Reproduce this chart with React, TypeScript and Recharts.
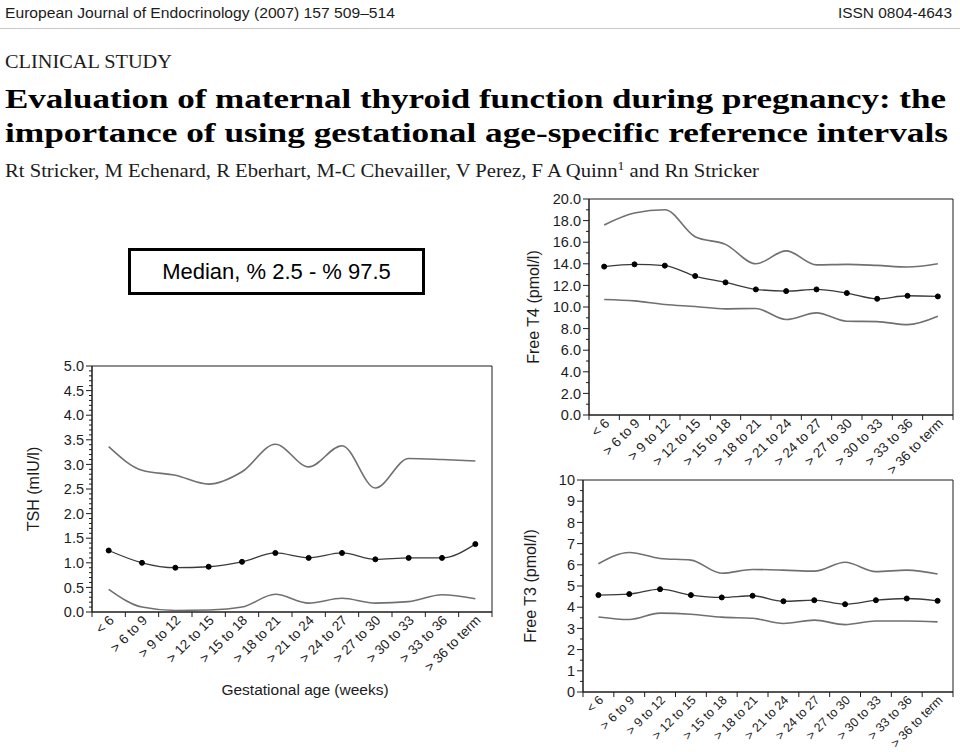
import React from "react";
import { LineChart, Line, XAxis, YAxis, ReferenceArea } from "recharts";

// gestational age groups (weeks)
const ageGroups = [
  "< 6", "> 6 to 9", "> 9 to 12", "> 12 to 15", "> 15 to 18", "> 18 to 21",
  "> 21 to 24", "> 24 to 27", "> 27 to 30", "> 30 to 33", "> 33 to 36", "> 36 to term",
];

// TSH (mIU/l)
const tshHigh = [3.36, 2.88, 2.78, 2.6, 2.85, 3.41, 2.95, 3.38, 2.52, 3.12, 3.1, 3.07];
const tshMedian = [1.25, 1.0, 0.9, 0.92, 1.02, 1.2, 1.1, 1.2, 1.07, 1.1, 1.1, 1.38];
const tshLow = [0.46, 0.1, 0.03, 0.04, 0.1, 0.36, 0.18, 0.28, 0.18, 0.21, 0.35, 0.27];

// Free T4 (pmol/l)
const ft4High = [17.6, 18.7, 19.0, 16.5, 15.8, 14.0, 15.2, 13.9, 13.95, 13.85, 13.7, 14.0];
const ft4Median = [13.74, 13.95, 13.83, 12.87, 12.28, 11.63, 11.47, 11.63, 11.29, 10.76, 11.04, 10.98];
const ft4Low = [10.7, 10.57, 10.23, 10.05, 9.83, 9.86, 8.84, 9.46, 8.68, 8.65, 8.37, 9.15];

// Free T3 (pmol/l)
const ft3High = [6.05, 6.58, 6.3, 6.22, 5.6, 5.78, 5.75, 5.7, 6.12, 5.68, 5.75, 5.57];
const ft3Median = [4.57, 4.62, 4.85, 4.57, 4.46, 4.54, 4.28, 4.33, 4.14, 4.33, 4.41, 4.3];
const ft3Low = [3.54, 3.42, 3.72, 3.67, 3.53, 3.48, 3.23, 3.39, 3.18, 3.35, 3.35, 3.31];

const FONT = "'Liberation Sans', Arial, sans-serif";
const SERIF = "'Liberation Serif', 'Times New Roman', serif";
const INK = "#1c1c1c";

function buildRows(high: number[], median: number[], low: number[]) {
  return ageGroups.map((g, i) => ({ x: i + 0.5, group: g, high: high[i], median: median[i], low: low[i] }));
}

function YTick(props: any) {
  const { x, y, payload, major, decimals, fontSize } = props;
  const v = payload.value;
  const isMajor = Math.abs(v / major - Math.round(v / major)) < 1e-6;
  return (
    <g>
      <line x1={x} x2={x - (isMajor ? 6 : 3)} y1={y} y2={y} stroke={INK} strokeWidth={1} />
      {isMajor && (
        <text x={x - 8} y={y} dy="0.36em" textAnchor="end" fontSize={fontSize} fontFamily={FONT} fill={INK}>
          {v.toFixed(decimals)}
        </text>
      )}
    </g>
  );
}

function XTick(props: any) {
  const { x, y, payload, band, fontSize } = props;
  const i = Math.round(payload.value);
  return (
    <g>
      <line x1={x} x2={x} y1={y} y2={y + 5} stroke={INK} strokeWidth={1} />
      {i < ageGroups.length && (
        <text
          transform={`translate(${x + band / 2 + 3},${y + 6}) rotate(-45)`}
          textAnchor="end"
          dy="0.32em"
          fontSize={fontSize}
          fontFamily={FONT}
          fill={INK}
        >
          {ageGroups[i]}
        </text>
      )}
    </g>
  );
}

interface PanelProps {
  rows: any[];
  yMax: number;
  major: number;
  minor: number;
  decimals: number;
  yLabel: string;
  yLabelOffset: number;
  xTitle?: string;
  xFont: number;
  width: number;
  height: number;
  top: number;
  right: number;
  yAxisWidth: number;
  xAxisHeight: number;
}

function Panel(p: PanelProps) {
  const plotWidth = p.width - p.yAxisWidth - p.right;
  const band = plotWidth / ageGroups.length;
  const yTicks: number[] = [];
  for (let k = 0; k <= Math.round(p.yMax / p.minor); k++) yTicks.push(+(k * p.minor).toFixed(4));
  const xTicks = ageGroups.map((_, i) => i).concat(ageGroups.length);

  return (
    <LineChart
      width={p.width}
      height={p.height}
      data={p.rows}
      margin={{ top: p.top, right: p.right, left: 0, bottom: 0 }}
    >
      <XAxis
        dataKey="x"
        type="number"
        domain={[0, ageGroups.length]}
        ticks={xTicks}
        interval={0}
        height={p.xAxisHeight}
        tickSize={0}
        tickMargin={0}
        tickLine={false}
        axisLine={{ stroke: INK }}
        tick={(t: any) => <XTick {...t} band={band} fontSize={p.xFont} />}
        label={
          p.xTitle
            ? { value: p.xTitle, position: "insideBottom", offset: 15, dx: 13, fontSize: 15.5, fontFamily: FONT, fill: INK }
            : undefined
        }
      />
      <YAxis
        type="number"
        domain={[0, p.yMax]}
        ticks={yTicks}
        interval={0}
        width={p.yAxisWidth}
        tickSize={0}
        tickMargin={0}
        tickLine={false}
        axisLine={{ stroke: INK }}
        tick={(t: any) => <YTick {...t} major={p.major} decimals={p.decimals} fontSize={14.5} />}
        label={{
          value: p.yLabel,
          angle: -90,
          position: "insideLeft",
          offset: p.yLabelOffset,
          style: { textAnchor: "middle", fontSize: 16, fontFamily: FONT, fill: INK },
        }}
      />
      <ReferenceArea x1={0} x2={ageGroups.length} y1={0} y2={p.yMax} fill="none" stroke={INK} strokeWidth={1} />
      <Line type="monotone" dataKey="high" stroke="#707070" strokeWidth={1.6} dot={false} isAnimationActive={false} />
      <Line type="monotone" dataKey="low" stroke="#707070" strokeWidth={1.6} dot={false} isAnimationActive={false} />
      <Line
        type="monotone"
        dataKey="median"
        stroke="#3a3a3a"
        strokeWidth={1.3}
        dot={{ r: 2.5, fill: "#000", stroke: "#000", strokeWidth: 1 }}
        isAnimationActive={false}
      />
    </LineChart>
  );
}

export default function App() {
  return (
    <div style={{ position: "absolute", left: 0, top: 0, width: 960, height: 752, background: "#fff", overflow: "hidden" }}>
      <svg width={960} height={190} style={{ position: "absolute", left: 0, top: 0 }}>
        <text x={5} y={18} fontSize={14} fontFamily={FONT} fill={INK} textLength={390} lengthAdjust="spacingAndGlyphs">
          European Journal of Endocrinology (2007) 157 509–514
        </text>
        <text x={838} y={18} fontSize={14} fontFamily={FONT} fill={INK} textLength={114} lengthAdjust="spacingAndGlyphs">
          ISSN 0804-4643
        </text>
        <line x1={0} x2={960} y1={28.5} y2={28.5} stroke="#c8c8c8" strokeWidth={1} />
        <text x={5} y={68} fontSize={18} fontFamily={SERIF} fill={INK} textLength={167} lengthAdjust="spacingAndGlyphs">
          CLINICAL STUDY
        </text>
        <text x={5} y={108} fontSize={27} fontWeight="bold" fontFamily={SERIF} fill="#000" textLength={941} lengthAdjust="spacingAndGlyphs">
          Evaluation of maternal thyroid function during pregnancy: the
        </text>
        <text x={5} y={142} fontSize={27} fontWeight="bold" fontFamily={SERIF} fill="#000" textLength={943} lengthAdjust="spacingAndGlyphs">
          importance of using gestational age-specific reference intervals
        </text>
        <text x={5} y={177} fontSize={18} fontFamily={SERIF} fill={INK} textLength={754} lengthAdjust="spacingAndGlyphs">
          <tspan>Rt Stricker, M Echenard, R Eberhart, M-C Chevailler, V Perez, F A Quinn</tspan>
          <tspan dy={-7} fontSize={12}>1</tspan>
          <tspan dy={7}> and Rn Stricker</tspan>
        </text>
      </svg>

      <div
        style={{
          position: "absolute",
          left: 128,
          top: 248,
          width: 291,
          height: 41,
          border: "3px solid #000",
          display: "flex",
          alignItems: "center",
          justifyContent: "center",
          fontFamily: FONT,
          fontSize: 22,
          color: "#000",
          whiteSpace: "nowrap",
        }}
      >
        Median, % 2.5 - % 97.5
      </div>

      <div style={{ position: "absolute", left: 0, top: 350 }}>
        <Panel
          rows={buildRows(tshHigh, tshMedian, tshLow)}
          yMax={5}
          major={0.5}
          minor={0.1}
          decimals={1}
          yLabel="TSH (mIU/l)"
          yLabelOffset={33}
          xTitle="Gestational age (weeks)"
          xFont={13.5}
          width={500}
          height={360}
          top={16}
          right={8}
          yAxisWidth={92}
          xAxisHeight={98}
        />
      </div>

      <div style={{ position: "absolute", left: 520, top: 185 }}>
        <Panel
          rows={buildRows(ft4High, ft4Median, ft4Low)}
          yMax={20}
          major={2}
          minor={1}
          decimals={1}
          yLabel="Free T4 (pmol/l)"
          yLabelOffset={13}
          xFont={13.5}
          width={440}
          height={298}
          top={14}
          right={7}
          yAxisWidth={69}
          xAxisHeight={68}
        />
      </div>

      <div style={{ position: "absolute", left: 520, top: 465 }}>
        <Panel
          rows={buildRows(ft3High, ft3Median, ft3Low)}
          yMax={10}
          major={1}
          minor={0.5}
          decimals={0}
          yLabel="Free T3 (pmol/l)"
          yLabelOffset={10}
          xFont={12.5}
          width={440}
          height={287}
          top={15}
          right={7}
          yAxisWidth={63}
          xAxisHeight={60}
        />
      </div>
    </div>
  );
}
